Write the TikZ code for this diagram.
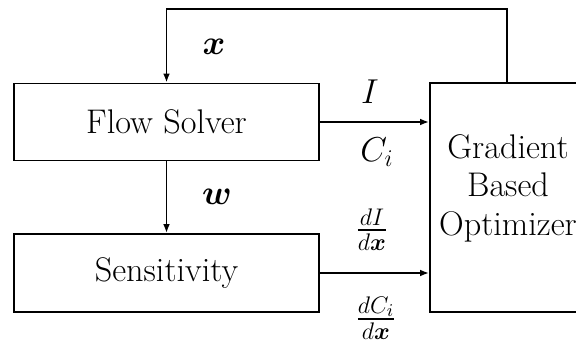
\documentclass[tikz,border=0pt]{standalone}
\usepackage{amsmath,bm}
\usetikzlibrary{arrows.meta}
\begin{document}
\begin{tikzpicture}[x=0.5pt,y=-0.5pt,
  every node/.style={font=\fontsize{17.1}{19.3}\selectfont},
  blk/.style={draw,line width=0.9pt,inner sep=0pt},
  arr/.style={line width=0.9pt,-{Latex[length=4.5pt,width=3.4pt]}},
  lbl/.style={inner sep=0pt}]
\useasboundingbox (0,0) rectangle (576,341);
\clip (0,0) rectangle (576,341);
\node[blk,minimum width=152.5pt,minimum height=38.5pt] (fs) at (166.5,122) {Flow Solver};
\node[blk,minimum width=152.5pt,minimum height=39pt] (sens) at (166.5,273) {Sensitivity};
\node[blk,minimum width=83pt,minimum height=114.5pt] (grad) at (513,197.5) {};
\node[lbl,align=center] (gtxt) at (508,188) {Gradient\\Based\\Optimizer};
\coordinate (tr) at (507,9);
\draw[arr] (grad.north -| tr) -- (tr) -| (fs.north);
\draw[arr] (fs) -- (sens);
\draw[arr] (fs.east) -- (fs.east -| grad.west);
\draw[arr] (sens.east) -- (sens.east -| grad.west);
\node[lbl] (lx) at (214,47) {$\bm{x}$};
\node[lbl] (lw) at (217,197) {$\bm{w}$};
\node[lbl] (lI) at (370,92) {$I$};
\node[lbl] (lC) at (377,152) {$C_i$};
\node[lbl] (ldI) at (372,229.5) {$\frac{dI}{d\bm{x}}$};
\node[lbl] (ldC) at (376,318) {$\frac{dC_i}{d\bm{x}}$};
\end{tikzpicture}
\end{document}
